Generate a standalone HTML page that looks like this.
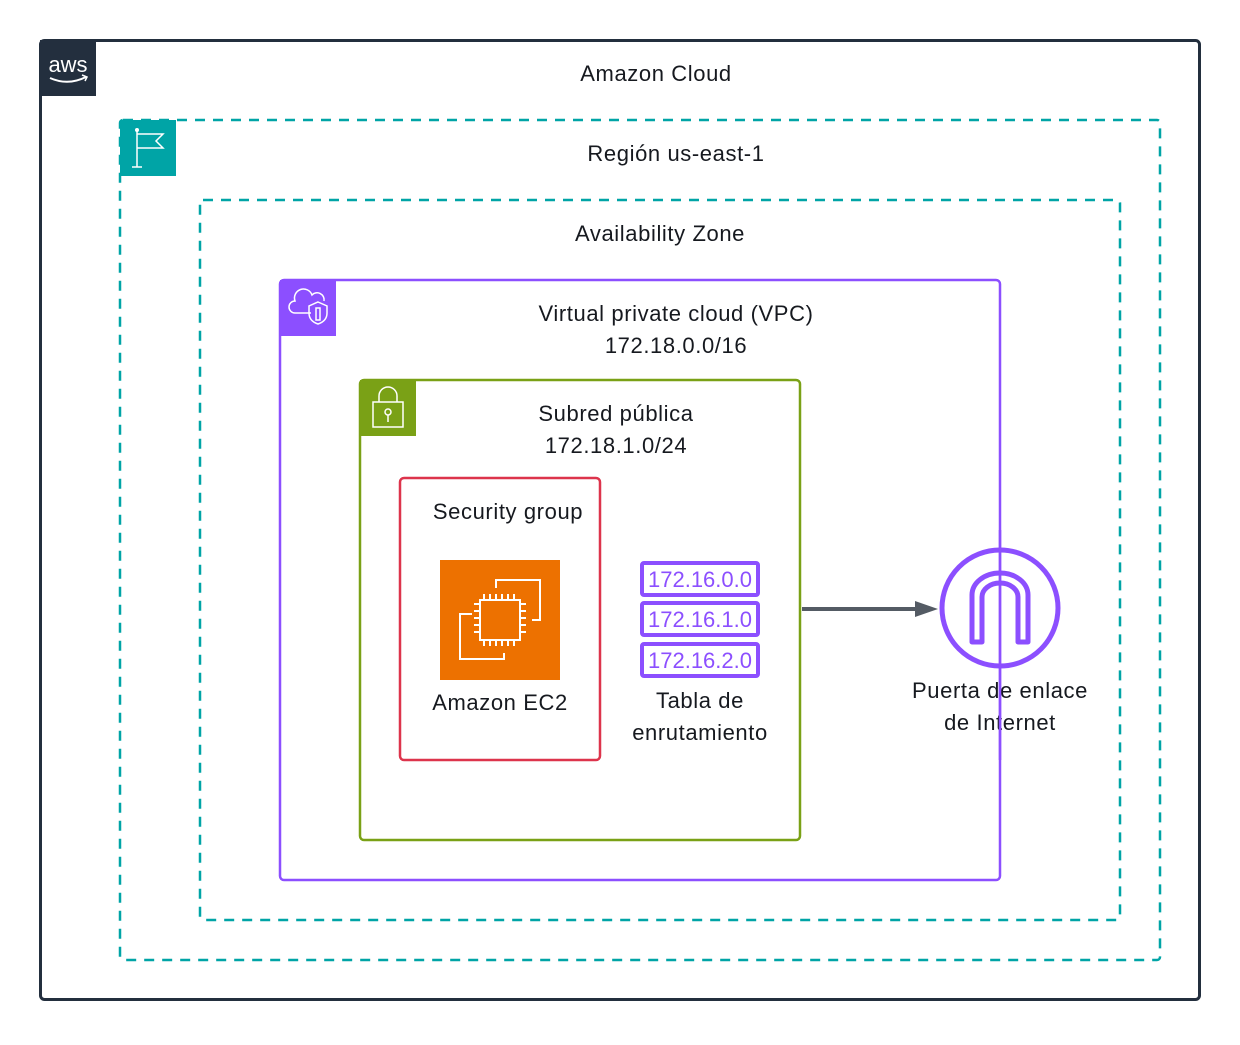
<!DOCTYPE html>
<html><head><meta charset="utf-8"><style>
html,body{margin:0;padding:0;background:#fff}
text{font-family:"Liberation Sans","DejaVu Sans",sans-serif;font-size:22px;letter-spacing:0.6px;fill:#16191f}
</style></head><body>
<svg width="1240" height="1040" viewBox="0 0 1240 1040" xmlns="http://www.w3.org/2000/svg">
<rect x="0" y="0" width="1240" height="1040" fill="#fff"/>
<rect x="40.5" y="40.5" width="1159" height="959" rx="4" fill="none" stroke="#232f3e" stroke-width="3"/>
<rect x="40" y="40" width="56" height="56" fill="#232f3e"/>
<text x="68" y="72" text-anchor="middle" style="fill:#fff;font-size:22px;letter-spacing:0">aws</text>
<path d="M50 78 Q68 86 86 77" stroke="#fff" stroke-width="2" fill="none"/>
<path d="M82 75 L87 77 L85 81" stroke="#fff" stroke-width="1.5" fill="none"/>
<text x="656" y="81" text-anchor="middle">Amazon Cloud</text>
<rect x="120" y="120" width="1040" height="840" rx="3" fill="none" stroke="#00a4a6" stroke-width="2.5" stroke-dasharray="10,8"/>
<rect x="120" y="120" width="56" height="56" fill="#00a4a6"/>
<g stroke="#fff" stroke-width="1.5" fill="none"><line x1="137" y1="130" x2="137" y2="167"/><line x1="132" y1="167" x2="142" y2="167"/><path d="M137 134 H163 L156 141 L163 148 H137"/></g>
<circle cx="137" cy="130" r="2" fill="#fff"/>
<text x="676" y="161" text-anchor="middle">Región us-east-1</text>
<rect x="200" y="200" width="920" height="720" rx="3" fill="none" stroke="#00a4a6" stroke-width="2.5" stroke-dasharray="10,8"/>
<text x="660" y="241" text-anchor="middle">Availability Zone</text>
<rect x="280" y="280" width="720" height="600" rx="4" fill="none" stroke="#8c4fff" stroke-width="2.5"/>
<rect x="280" y="280" width="56" height="56" fill="#8c4fff"/>
<g stroke="#fff" stroke-width="1.5" fill="none"><path d="M311 313 H295 a6 6 0 0 1 0-12 a9 9 0 0 1 17-6 a7 7 0 0 1 12 6"/><path d="M318 302 l9 4 v7 q0 8 -9 11 q-9 -3 -9 -11 v-7z"/><path d="M316 308 h4 v12 h-4z"/></g>
<text x="676" y="321" text-anchor="middle">Virtual private cloud (VPC)</text>
<text x="676" y="353" text-anchor="middle">172.18.0.0/16</text>
<rect x="360" y="380" width="440" height="460" rx="4" fill="none" stroke="#7aa116" stroke-width="2.5"/>
<rect x="360" y="380" width="56" height="56" fill="#7aa116"/>
<g stroke="#fff" stroke-width="1.5" fill="none"><rect x="373" y="402" width="30" height="25"/><path d="M379 402 v-6 a9 9 0 0 1 18 0 v6"/><circle cx="388" cy="412" r="3"/><line x1="388" y1="415" x2="388" y2="422"/></g>
<text x="616" y="421" text-anchor="middle">Subred pública</text>
<text x="616" y="453" text-anchor="middle">172.18.1.0/24</text>
<rect x="400" y="478" width="200" height="282" rx="4" fill="none" stroke="#dd344c" stroke-width="2.5"/>
<text x="508" y="519" text-anchor="middle">Security group</text>
<rect x="440" y="560" width="120" height="120" fill="#ed7100"/>
<g stroke="#fff" stroke-width="2" fill="none">
<path d="M496 588 v-8 h44 v40 h-8"/><path d="M472 614 h-12 v45 h44 v-6"/>
<rect x="480" y="600" width="40" height="40"/>
<path d="M484 600v-6M490 600v-6M496 600v-6M502 600v-6M508 600v-6M514 600v-6M484 640v6M490 640v6M496 640v6M502 640v6M508 640v6M514 640v6M480 604h-6M480 611h-6M480 618h-6M480 625h-6M480 632h-6M520 604h6M520 611h6M520 618h6M520 625h6M520 632h6"/>
</g>
<text x="500" y="710" text-anchor="middle">Amazon EC2</text>
<g fill="#fff" stroke="#8c4fff" stroke-width="4"><rect x="642" y="563" width="116" height="32" rx="2"/><rect x="642" y="603" width="116" height="32" rx="2"/><rect x="642" y="644" width="116" height="32" rx="2"/></g>
<text x="700" y="587" text-anchor="middle" style="fill:#8c4fff;font-size:22px;letter-spacing:0">172.16.0.0</text>
<text x="700" y="627" text-anchor="middle" style="fill:#8c4fff;font-size:22px;letter-spacing:0">172.16.1.0</text>
<text x="700" y="668" text-anchor="middle" style="fill:#8c4fff;font-size:22px;letter-spacing:0">172.16.2.0</text>
<text x="700" y="708" text-anchor="middle">Tabla de</text>
<text x="700" y="740" text-anchor="middle">enrutamiento</text>
<line x1="802" y1="609" x2="918" y2="609" stroke="#545b64" stroke-width="4"/>
<path d="M915 601 L938 609 L915 617 Z" fill="#545b64"/>
<circle cx="1000" cy="608" r="58" fill="none" stroke="#8c4fff" stroke-width="5"/>
<path d="M972 642 V595 a28 22 0 0 1 56 0 V642 h-10 V597 a18 14 0 0 0 -36 0 V642 Z" fill="none" stroke="#8c4fff" stroke-width="5" stroke-linejoin="round"/>
<text x="1000" y="698" text-anchor="middle">Puerta de enlace</text>
<text x="1000" y="730" text-anchor="middle">de Internet</text>
<line x1="1000" y1="530" x2="1000" y2="760" stroke="#8c4fff" stroke-width="2.5"/>
</svg>
</body></html>
